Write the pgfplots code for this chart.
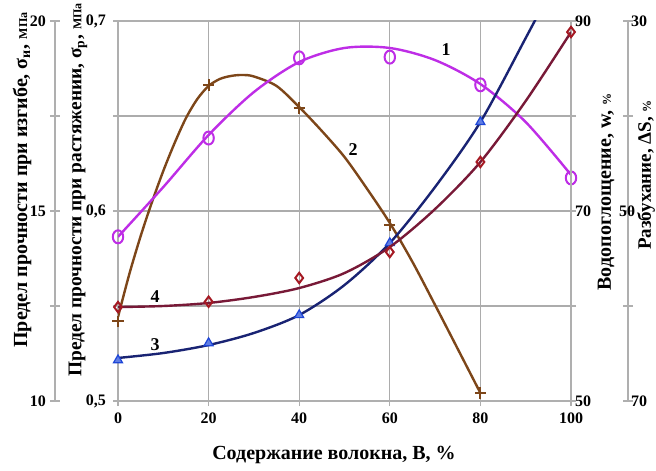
\documentclass[border=0pt]{standalone}
\usepackage{pgfplots}
\pgfplotsset{compat=1.18}
\usepackage{fontspec}
\setmainfont{Liberation Serif}

\definecolor{axisgray}{RGB}{175,175,175}
\definecolor{gridgray}{RGB}{172,172,172}
\definecolor{cone}{RGB}{190,45,230}
\definecolor{ctwo}{RGB}{125,70,25}
\definecolor{cthree}{RGB}{25,35,115}
\definecolor{cthreem}{RGB}{30,70,215}
\definecolor{cfour}{RGB}{120,25,55}
\definecolor{cfourm}{RGB}{165,25,35}

\pgfplotsset{
  base/.style={
    width=226.5pt, height=190pt, scale only axis,
    at={(0,0)}, anchor=south west,
    xmin=0, xmax=100,
    /pgf/number format/assume math mode=true,
    ticklabel style={font=\bfseries\fontsize{8}{9}\selectfont},
    axis line style={draw=axisgray, line width=0.6pt, -},
    tick style={draw=axisgray, line width=0.6pt},
  },
  trend/.style={smooth, no marks, line width=1.2pt},
}

\begin{document}
\begin{tikzpicture}
\useasboundingbox (-59pt,-34.5pt) rectangle (269pt,200.5pt);

% main frame: tensile strength scale, grid and fibre content axis
\begin{axis}[base,
  ymin=0.5, ymax=0.7,
  axis lines=box,
  xtick={0,20,40,60,80,100}, xtick pos=bottom,
  ytick={0.5,0.55,0.6,0.65,0.7}, ytick pos=left,
  yticklabels={{0,5},{},{0,6},{},{0,7}},
  tick align=outside, major tick length=2.5pt,
  grid=major, grid style={draw=gridgray, line width=0.6pt},
]
% curve 2: tensile strength
\addplot[trend, draw=ctwo] coordinates {
  (0,0.5442) (2.5,0.5668) (5,0.5868) (7.5,0.6047) (10,0.6211) (12.5,0.6358)
  (15,0.6489) (17.5,0.6589) (20,0.6658) (22.5,0.6695) (25,0.6711) (27.5,0.6716)
  (30,0.6708) (35,0.6658) (40,0.6547) (45,0.6421) (50,0.6284) (55,0.6116)
  (60,0.5937) (65,0.5732) (70,0.5505) (75,0.5274) (80,0.5042)};
\addplot[only marks, mark=+, mark size=2.8pt, draw=ctwo, line width=1pt] coordinates {
  (0,0.5420) (20,0.6663) (40,0.6542) (60,0.5926) (80,0.5042)};
\end{axis}

% curve 1: bending strength
\begin{axis}[base, ymin=10, ymax=20, hide axis]
\addplot[trend, draw=cone] coordinates {
  (0,14.32) (10,15.63) (20,17.00) (30,18.13) (40,18.92) (50,19.29)
  (60,19.29) (70,18.97) (80,18.34) (90,17.34) (100,15.95)};
\addplot[only marks, mark=o, mark size=2.6pt, draw=cone, line width=1pt,
  mark options={yscale=1.25}] coordinates {
  (0,14.32) (20,16.92) (40,19.03) (60,19.05) (80,18.32) (100,15.87)};
\end{axis}

% curve 3: water absorption, right inner scale
\begin{axis}[base, ymin=50, ymax=90,
  axis x line=none, axis y line*=right,
  ytick={50,60,70,80,90}, yticklabels={50,,70,,90},
  tick align=outside, major tick length=2.5pt,
  yticklabel style={xshift=-4pt},
]
\addplot[trend, draw=cthree] coordinates {
  (0,54.53) (10,55.05) (20,55.89) (30,57.16) (40,59.05) (50,62.21)
  (60,66.63) (70,72.53) (80,79.37) (90,88.21) (95,92.74)};
\addplot[only marks, mark=triangle*, mark size=2.6pt, draw=cthreem, fill=cthreem!70!white,
  line width=0.6pt] coordinates {
  (0,54.3) (20,56.1) (40,59.05) (60,66.63) (80,79.37)};
\end{axis}

% curve 4: swelling
\begin{axis}[base, ymin=30, ymax=70, y dir=reverse, hide axis]
\addplot[trend, draw=cfour] coordinates {
  (0,60.11) (10,60.0) (20,59.68) (30,59.05) (40,58.11) (50,56.53)
  (60,53.79) (70,49.79) (80,44.84) (90,38.42) (100,31.16)};
\addplot[only marks, mark=diamond, mark size=2.6pt, draw=cfourm, line width=1pt] coordinates {
  (0,60.11) (20,59.55) (40,57.05) (60,54.32) (80,44.84) (100,31.16)};
\end{axis}

% outer left scale: bending strength
\begin{axis}[base, at={(-31.5pt,0)}, ymin=10, ymax=20,
  axis x line=none, axis y line*=left,
  ytick={10,12.5,15,17.5,20}, yticklabels={10,,15,,20},
  tick align=center, major tick length=5pt,
  yticklabel style={xshift=1.5pt},
]
\end{axis}

% outer right scale: swelling
\begin{axis}[base, at={(28.5pt,0)}, ymin=30, ymax=70, y dir=reverse,
  axis x line=none, axis y line*=right,
  ytick={30,40,50,60,70}, yticklabels={30,,{\kern-6pt 50},,70},
  tick align=center, major tick length=5pt,
  yticklabel style={xshift=-4.5pt},
]
\end{axis}

% curve numbers
\begin{scope}[font=\bfseries\fontsize{9}{10}\selectfont]
\node at (164pt,175.5pt) {1};
\node at (117.5pt,125.5pt) {2};
\node at (18.5pt,28pt) {3};
\node at (18.5pt,52pt) {4};
\end{scope}

% axis titles
\begin{scope}[font=\bfseries\fontsize{10}{12}\selectfont]
\node[rotate=90] at (-48pt,110.5pt) {Предел прочности при изгибе, σ\textsubscript{и},~{\fontsize{6}{7}\selectfont МПа}};
\node[rotate=90, font=\bfseries\fontsize{9.7}{12}\selectfont] at (-20pt,105.5pt) {Предел прочности при растяжении, σ\textsubscript{р},~{\fontsize{6}{7}\selectfont МПа}};
\node[rotate=90] at (244pt,104.5pt) {Водопоглощение, w,~{\fontsize{6}{7}\selectfont\%}};
\node[rotate=90, font=\bfseries\fontsize{9.5}{11}\selectfont, inner sep=0pt] at (264pt,113pt) {Разбухание, ΔS,~{\fontsize{6}{7}\selectfont\%}};
\node at (108pt,-27pt) {Содержание волокна, В, \%};
\end{scope}

\end{tikzpicture}
\end{document}
